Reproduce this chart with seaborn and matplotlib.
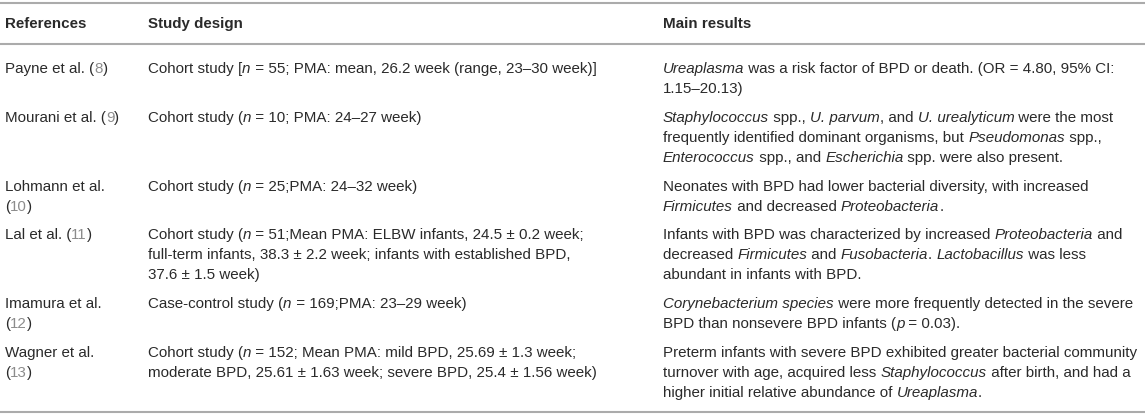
import re
import numpy as np
import seaborn as sns
import matplotlib
matplotlib.use("Agg")
import matplotlib.pyplot as plt

# table content, line breaks as in the reference
# *...* = italic, {..} = citation number
headers = ["References", "Study design", "Main results"]

references = [
    ["Payne et al. ({8})"],
    ["Mourani et al. ({9})"],
    ["Lohmann et al.", "({10})"],
    ["Lal et al. ({11})"],
    ["Imamura et al.", "({12})"],
    ["Wagner et al.", "({13})"],
]

designs = [
    ["Cohort study [*n* = 55; PMA: mean, 26.2 week (range, 23–30 week)]"],
    ["Cohort study (*n* = 10; PMA: 24–27 week)"],
    ["Cohort study (*n* = 25;PMA: 24–32 week)"],
    ["Cohort study (*n* = 51;Mean PMA: ELBW infants, 24.5 ± 0.2 week;",
     "full-term infants, 38.3 ± 2.2 week; infants with established BPD,",
     "37.6 ± 1.5 week)"],
    ["Case-control study (*n* = 169;PMA: 23–29 week)"],
    ["Cohort study (*n* = 152; Mean PMA: mild BPD, 25.69 ± 1.3 week;",
     "moderate BPD, 25.61 ± 1.63 week; severe BPD, 25.4 ± 1.56 week)"],
]

results = [
    ["*Ureaplasma* was a risk factor of BPD or death. (OR = 4.80, 95% CI:",
     "1.15–20.13)"],
    ["*Staphylococcus* spp., *U. parvum*, and *U. urealyticum* were the most",
     "frequently identified dominant organisms, but *Pseudomonas* spp.,",
     "*Enterococcus* spp., and *Escherichia* spp. were also present."],
    ["Neonates with BPD had lower bacterial diversity, with increased",
     "*Firmicutes* and decreased *Proteobacteria*."],
    ["Infants with BPD was characterized by increased *Proteobacteria* and",
     "decreased *Firmicutes* and *Fusobacteria*. *Lactobacillus* was less",
     "abundant in infants with BPD."],
    ["*Corynebacterium species* were more frequently detected in the severe",
     "BPD than nonsevere BPD infants (*p* = 0.03)."],
    ["Preterm infants with severe BPD exhibited greater bacterial community",
     "turnover with age, acquired less *Staphylococcus* after birth, and had a",
     "higher initial relative abundance of *Ureaplasma*."],
]

sns.set_theme(style="white")
plt.rcParams["font.family"] = ["Liberation Sans", "DejaVu Sans"]

W, H = 1145, 417
fig = plt.figure(figsize=(W / 100, H / 100), dpi=100)
ax = fig.add_axes([0, 0, 1, 1])
ax.set_xlim(0, W)
ax.set_ylim(H, 0)
ax.axis("off")
fig.canvas.draw()
renderer = fig.canvas.get_renderer()

text_color = "#2a2a2a"
cite_color = "#8c8c8c"
rule_color = "#ababab"
col_x = [5, 148, 663]


def seg_width(s, size, style="normal", weight="normal"):
    # pad with X so leading/trailing spaces are counted
    t1 = ax.text(0, 0, "X" + s + "X", fontsize=size, style=style, weight=weight)
    t2 = ax.text(0, 0, "XX", fontsize=size, style=style, weight=weight)
    w = t1.get_window_extent(renderer).width - t2.get_window_extent(renderer).width
    t1.remove()
    t2.remove()
    return w


# fit font size so a reference line spans roughly the measured width
probe = "Cohort study [n = 55; PMA: mean, 26.2 week (range, 23–30 week)]"
fs = 10.0 * 451 / seg_width(probe, 10.0)


def draw_line(x, y, line, weight="normal"):
    parts = [p for p in re.split(r"(\*[^*]+\*|\{[^}]+\})", line) if p]
    for p in parts:
        style, color, s = "normal", text_color, p
        if p.startswith("*"):
            style, s = "italic", p[1:-1]
        elif p.startswith("{"):
            color, s = cite_color, p[1:-1]
        ax.text(x, y, s, fontsize=fs, style=style, weight=weight,
                color=color, va="baseline", ha="left")
        x += seg_width(s, fs, style, weight)


base_off = 5
line_gap = 20
row_gap = 28.8

# rules
for y in [3, 44, 412]:
    ax.axhline(y, color=rule_color, lw=1.5)

# header
for x, h in zip(col_x, headers):
    draw_line(x, 23 + base_off, h, weight="bold")

# body rows
y = 68
for ref, des, res in zip(references, designs, results):
    for x, cell in zip(col_x, [ref, des, res]):
        for i, line in enumerate(cell):
            draw_line(x, y + i * line_gap + base_off, line)
    n = max(len(ref), len(des), len(res))
    y += (n - 1) * line_gap + row_gap

fig.savefig("out.png", dpi=100)
